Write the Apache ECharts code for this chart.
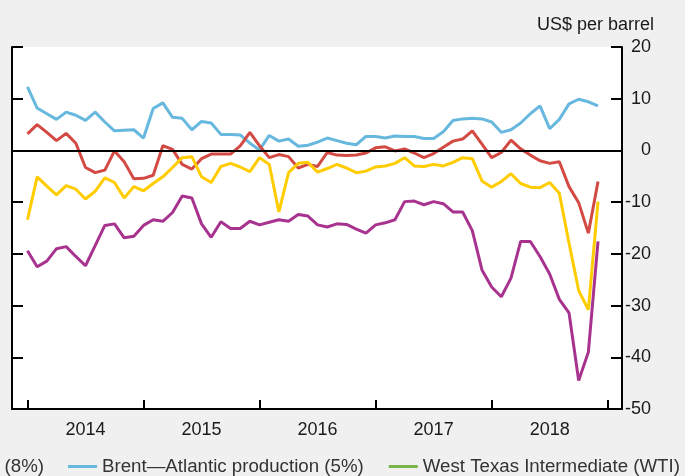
<!DOCTYPE html>
<html>
<head>
<meta charset="utf-8">
<script src="https://cdn.jsdelivr.net/npm/echarts@6/dist/echarts.min.js"></script>
<style>
  html, body { margin: 0; padding: 0; background: #f0f0f0; }
  #chart { width: 685px; height: 476px; }
</style>
</head>
<body>
<div id="chart"></div>
<script>
// monthly, Jan 2014 - Dec 2018
const years = ['2014', '2015', '2016', '2017', '2018']
const yTicks = [20, 10, 0, -10, -20, -30, -40, -50]

const brent = [12.3, 8.2, 7.1, 6.0, 7.4, 6.8, 5.8, 7.4, 5.5, 3.8, 3.9, 4.0,
  2.4, 8.1, 9.2, 6.4, 6.2, 4.0, 5.6, 5.3, 3.1, 3.1, 3.0, 1.4,
  0.1, 2.9, 1.8, 2.2, 0.8, 1.0, 1.6, 2.4, 1.9, 1.4, 1.1, 2.7,
  2.7, 2.4, 2.8, 2.7, 2.7, 2.3, 2.3, 3.6, 5.8, 6.1, 6.2, 6.1,
  5.5, 3.5, 4.0, 5.3, 7.1, 8.6, 4.2, 6.0, 9.0, 9.9, 9.4, 8.6]

const redSeries = [3.2, 5.0, 3.5, 1.9, 3.3, 1.4, -3.3, -4.3, -3.8, -0.1, -2.2, -5.5,
  -5.4, -4.8, 0.9, 0.2, -2.7, -3.6, -1.6, -0.7, -0.7, -0.7, 0.9, 3.5,
  0.9, -1.4, -0.8, -1.2, -3.4, -2.7, -3.1, -0.4, -0.9, -1.0, -0.9, -0.5,
  0.5, 0.7, -0.1, 0.3, -0.5, -1.4, -0.6, 0.6, 1.8, 2.2, 3.8, 1.2,
  -1.4, -0.4, 2.0, 0.3, -0.9, -2.0, -2.5, -2.2, -7.0, -10.1, -16.0, -6.0]

const yellowSeries = [-13.4, -5.1, -6.9, -8.6, -6.8, -7.5, -9.4, -7.9, -5.3, -6.2, -9.2, -7.0,
  -7.8, -6.4, -5.1, -3.3, -1.4, -1.2, -5.1, -6.2, -3.1, -2.5, -3.2, -4.1,
  -1.4, -2.7, -11.9, -4.3, -2.5, -2.3, -4.2, -3.5, -2.7, -3.4, -4.3, -4.0,
  -3.2, -3.0, -2.5, -1.4, -3.0, -3.1, -2.7, -3.0, -2.3, -1.4, -1.6, -5.9,
  -7.1, -6.0, -4.5, -6.4, -7.1, -7.2, -6.2, -8.3, -17.9, -27.1, -30.8, -9.9]

const purpleSeries = [-19.4, -22.5, -21.4, -19.0, -18.6, -20.5, -22.3, -18.4, -14.5, -14.2, -16.9, -16.6,
  -14.5, -13.4, -13.7, -12.0, -8.8, -9.2, -14.2, -16.8, -13.8, -15.1, -15.1, -13.7,
  -14.4, -13.9, -13.4, -13.7, -12.4, -12.7, -14.4, -14.8, -14.2, -14.3, -15.2, -16.0,
  -14.4, -14.0, -13.4, -9.9, -9.8, -10.5, -9.9, -10.3, -11.9, -11.9, -15.5, -23.1,
  -26.4, -28.3, -24.7, -17.6, -17.6, -20.5, -23.9, -28.8, -31.4, -44.5, -39.0, -17.6]

const names = {
  red: 'Syncrude—synthetic crude (8%)',
  yellow: 'Edmonton Par—light crude',
  purple: 'Western Canada Select—heavy crude',
  brent: 'Brent—Atlantic production (5%)',
  wti: 'West Texas Intermediate (WTI)'
}

const toPoints = arr => arr.map((v, i) => [i, v])
const font = 'Liberation Sans, Arial, Helvetica, sans-serif'
const ink = '#1a1a1a'
const legendText = { fontSize: 18.7, color: '#333', fontFamily: font }

const yAxisBase = {
  type: 'value',
  min: -50,
  max: 20,
  interval: 10,
  splitLine: { show: false },
  axisLine: { show: true, onZero: false, lineStyle: { color: '#000', width: 2 } },
  axisTick: { show: true, inside: true, length: 11, lineStyle: { color: '#000', width: 2 } }
}

const lineSeries = (name, arr, color) => ({
  name: name,
  type: 'line',
  data: toPoints(arr),
  showSymbol: false,
  symbol: 'none',
  lineStyle: { width: 3, color: color },
  itemStyle: { color: color },
  silent: true
})

const option = {
  backgroundColor: '#f0f0f0',
  animation: false,
  textStyle: { fontFamily: font },
  title: {
    text: 'US$ per barrel',
    right: 31,
    top: 16,
    padding: 0,
    textStyle: { fontSize: 18, fontWeight: 'normal', color: ink, fontFamily: font }
  },
  legend: [
    {
      data: [names.red],
      right: 641,
      top: 457,
      padding: 0,
      icon: 'rect',
      itemWidth: 29,
      itemHeight: 3,
      textStyle: legendText
    },
    {
      data: [names.brent, names.wti],
      left: 68,
      top: 457,
      padding: 0,
      itemGap: 25,
      icon: 'rect',
      itemWidth: 29,
      itemHeight: 3,
      textStyle: legendText
    }
  ],
  grid: {
    left: 12,
    right: 63,
    top: 47,
    bottom: 67,
    show: true,
    backgroundColor: '#fff',
    borderWidth: 0
  },
  xAxis: {
    type: 'value',
    min: -1.6,
    max: 61.48,
    splitLine: { show: false },
    axisLine: { onZero: false, lineStyle: { color: '#000', width: 2 } },
    axisTick: {
      inside: true,
      length: 9,
      customValues: [0, 12, 24, 36, 48, 60],
      lineStyle: { color: '#000', width: 2 }
    },
    axisLabel: {
      customValues: [6, 18, 30, 42, 54],
      formatter: v => years[Math.round((v - 6) / 12)],
      fontSize: 18,
      color: ink,
      margin: 12
    }
  },
  yAxis: [
    Object.assign({}, yAxisBase, {
      position: 'right',
      axisLabel: {
        fontSize: 18,
        color: ink,
        align: 'right',
        margin: 29,
        customValues: yTicks
      }
    }),
    Object.assign({}, yAxisBase, {
      position: 'left',
      axisLabel: { show: false }
    })
  ],
  series: [
    Object.assign(lineSeries(names.brent, brent, '#67b8de'), {
      markLine: {
        silent: true,
        symbol: 'none',
        label: { show: false },
        lineStyle: { color: '#000', width: 2, type: 'solid' },
        data: [{ yAxis: 0 }]
      }
    }),
    lineSeries(names.red, redSeries, '#d24a43'),
    lineSeries(names.yellow, yellowSeries, '#ffcc00'),
    lineSeries(names.purple, purpleSeries, '#a8338f'),
    lineSeries(names.wti, [], '#7ab648')
  ]
}

const myChart = echarts.init(document.getElementById('chart'))
myChart.setOption(option)
</script>
</body>
</html>
